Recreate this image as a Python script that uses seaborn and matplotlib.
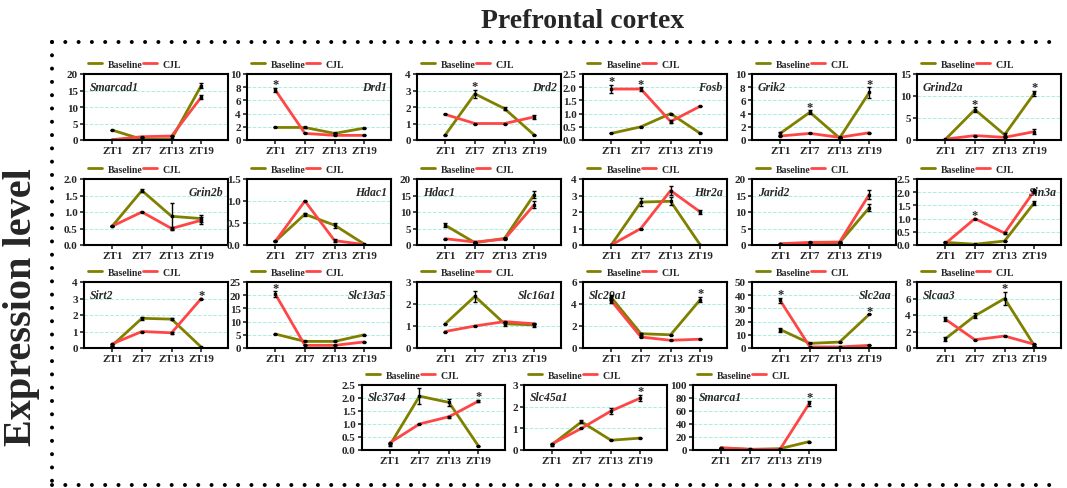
import numpy as np
import pandas as pd
import seaborn as sns
import matplotlib.pyplot as plt
from matplotlib.lines import Line2D

# time points and genes
zt = ["ZT1", "ZT7", "ZT13", "ZT19"]
genes = ["Smarcad1", "Drd1", "Drd2", "Fosb", "Grik2", "Grind2a",
         "Grin2b", "Hdac1", "Hdac1", "Htr2a", "Jarid2", "Sin3a",
         "Sirt2", "Slc13a5", "Slc16a1", "Slc29a1", "Slc2aa", "Slcaa3",
         "Slc37a4", "Slc45a1", "Smarca1"]

baseline = [[3.0, 0.2, 0.3, 16.5], [1.9, 1.9, 1.0, 1.8], [0.3, 2.8, 1.9, 0.3],
            [0.25, 0.5, 1.0, 0.25], [1.0, 4.2, 0.3, 7.2], [0.1, 6.9, 1.2, 10.6],
            [0.57, 1.65, 0.87, 0.8], [0.08, 0.7, 0.45, 0.02], [6.0, 0.7, 2.0, 15.3],
            [0.0, 2.6, 2.65, 0.0], [0.2, 0.3, 0.7, 11.3], [0.1, 0.03, 0.15, 1.6],
            [0.15, 1.8, 1.75, 0.05], [5.3, 2.5, 2.5, 5.0], [1.1, 2.35, 1.1, 1.05],
            [4.6, 1.3, 1.2, 4.4], [14.0, 3.5, 4.5, 25.5], [1.1, 3.9, 6.0, 0.3],
            [0.2, 2.07, 1.83, 0.15], [0.25, 1.3, 0.45, 0.55], [3.0, 1.0, 2.0, 13.0]]
baseline_err = [[0, 0, 0, 0.8], [0, 0.1, 0, 0], [0, 0.25, 0.1, 0],
                [0, 0, 0, 0], [0.2, 0.3, 0, 0.8], [0, 0.5, 0.3, 0.5],
                [0, 0.05, 0.4, 0.1], [0, 0.03, 0.06, 0], [0.6, 0, 0, 1.0],
                [0, 0.25, 0.25, 0], [0, 0, 0, 1.0], [0, 0, 0, 0.07],
                [0, 0.08, 0.05, 0], [0, 0, 0, 0], [0, 0.25, 0.1, 0.08],
                [0.2, 0.1, 0, 0.25], [1.5, 0, 0, 0], [0.2, 0.3, 0.8, 0],
                [0.05, 0.3, 0.12, 0], [0.05, 0.07, 0, 0], [0, 0, 0, 0]]
cjl = [[0.1, 1.0, 1.2, 13.0], [7.6, 1.0, 0.7, 0.7], [1.55, 1.0, 1.0, 1.4],
       [1.93, 1.93, 0.7, 1.28], [0.6, 1.0, 0.4, 1.1], [0.2, 1.0, 0.6, 1.9],
       [0.57, 1.0, 0.5, 0.75], [0.08, 1.0, 0.1, 0.01], [1.9, 0.9, 1.8, 12.2],
       [0.0, 1.0, 3.3, 2.0], [0.4, 0.8, 0.9, 15.3], [0.05, 1.0, 0.45, 2.05],
       [0.25, 1.0, 0.92, 3.0], [20.5, 1.0, 1.0, 2.3], [0.75, 1.0, 1.2, 1.1],
       [4.3, 1.0, 0.7, 0.8], [36.0, 0.8, 0.8, 2.0], [3.5, 1.0, 1.45, 0.45],
       [0.28, 1.0, 1.28, 1.88], [0.28, 1.0, 1.8, 2.4], [3.5, 1.0, 1.0, 72.0]]
cjl_err = [[0, 0, 0, 0.7], [0.3, 0, 0, 0], [0, 0, 0, 0.1],
           [0.15, 0.07, 0.06, 0], [0, 0, 0, 0], [0, 0, 0, 0.6],
           [0, 0, 0.06, 0.1], [0, 0, 0.03, 0], [0, 0, 0, 1.0],
           [0, 0, 0.25, 0.1], [0, 0, 0, 1.5], [0, 0, 0.05, 0.07],
           [0, 0, 0.06, 0], [1.0, 0, 0, 0], [0, 0, 0, 0],
           [0.2, 0, 0, 0], [2.0, 0, 0, 0], [0.2, 0, 0, 0],
           [0, 0, 0.04, 0.05], [0, 0, 0.12, 0.15], [0, 0, 0, 4.0]]
stars = [[], [0], [1], [0, 1], [1, 3], [1, 3],
         [], [], [], [], [], [1],
         [3], [0], [], [3], [0, 3], [2],
         [3], [3], [3]]
y_max = [20, 10, 4, 2.5, 10, 15, 2, 1.5, 20, 4, 20, 2.5,
         4, 25, 3, 6, 50, 8, 2.5, 3, 100]
y_step = [5, 2, 1, 0.5, 2, 5, 0.5, 0.5, 5, 1, 5, 0.5,
          1, 5, 1, 2, 10, 2, 0.5, 1, 20]
label_side = "LRRRLL" + "RRLRLR" + "LRRLRL" + "LLL"

olive = "#808000"
red = "#ff4646"

sns.set_style("ticks")
plt.rcParams['font.family'] = ['Liberation Serif', 'DejaVu Serif']
plt.rcParams['font.weight'] = 'bold'

W, H = 1067, 489
fig = plt.figure(figsize=(W / 100, H / 100), dpi=100)

# panel boxes in pixels (left, top, width, height)
boxes = []
for top in [75, 180, 283]:
    for left in [84, 247, 417, 583, 752, 917]:
        boxes.append((left, top, 144, 66))
for left in [362, 524, 693]:
    boxes.append((left, 386, 143, 65))

x = np.arange(len(zt))
for i, g in enumerate(genes):
    l, t, w, h = boxes[i]
    ax = fig.add_axes([l / W, 1 - (t + h) / H, w / W, h / H])
    sns.lineplot(x=x, y=baseline[i], ax=ax, color=olive, lw=2.0, label="Baseline")
    sns.lineplot(x=x, y=cjl[i], ax=ax, color=red, lw=2.0, label="CJL")
    for vals, errs in [(baseline[i], baseline_err[i]), (cjl[i], cjl_err[i])]:
        ax.errorbar(x, vals, yerr=errs, fmt='s', ms=1.8, color='black',
                    ecolor='black', elinewidth=1.0, capsize=1.5, capthick=1.0, zorder=5)
    for s in stars[i]:
        top = max(baseline[i][s] + baseline_err[i][s], cjl[i][s] + cjl_err[i][s])
        ax.text(s, top + 0.01 * y_max[i], "*", ha='center', va='baseline',
                fontsize=9, fontweight='bold')
    ax.set_xlim(-0.95, 3.9)
    ax.set_ylim(0, y_max[i])
    ax.set_yticks(np.arange(0, y_max[i] + y_step[i] / 2, y_step[i]))
    if y_step[i] < 1:
        ax.set_yticklabels([f"{v:.1f}" for v in ax.get_yticks()])
    else:
        ax.set_yticklabels([f"{v:g}" for v in ax.get_yticks()])
    ax.set_xticks(x, zt)
    ax.yaxis.grid(True, color='#a9efe3', ls='--', lw=0.7)
    ax.tick_params(labelsize=8, length=3, width=1.2, pad=1.5)
    for sp in ax.spines.values():
        sp.set_linewidth(1.5)
        sp.set_color('black')
    if label_side[i] == "L":
        ax.text(0.04, 0.9, g, transform=ax.transAxes, ha='left', va='top',
                fontsize=8.5, fontstyle='italic', fontweight='bold')
    else:
        ax.text(0.97, 0.9, g, transform=ax.transAxes, ha='right', va='top',
                fontsize=8.5, fontstyle='italic', fontweight='bold')
    ax.legend(loc='lower left', bbox_to_anchor=(0.0, 1.02), ncol=2, frameon=False,
              fontsize=7, handlelength=1.4, handletextpad=0.6, columnspacing=0.1,
              borderpad=0.2, borderaxespad=0.2)

fig.text(583 / W, 1 - 22 / H, "Prefrontal cortex", ha='center', va='center',
         fontsize=20, fontweight='bold')
fig.text(22 / W, 1 - 307 / H, "Expression level", ha='center', va='center',
         rotation=90, fontsize=29, fontweight='bold')

# dotted frame
dots = dict(color='black', lw=2.9, linestyle=(0, (0.001, 3.3)),
            dash_capstyle='round', transform=fig.transFigure)
fig.add_artist(Line2D([52 / W, 1062 / W], [1 - 43 / H, 1 - 43 / H], **dots))
fig.add_artist(Line2D([52 / W, 52 / W], [1 - 43 / H, 1 - 486 / H], **dots))
fig.add_artist(Line2D([52 / W, 1062 / W], [1 - 486 / H, 1 - 486 / H], **dots))

fig.savefig("out.png", dpi=100)
